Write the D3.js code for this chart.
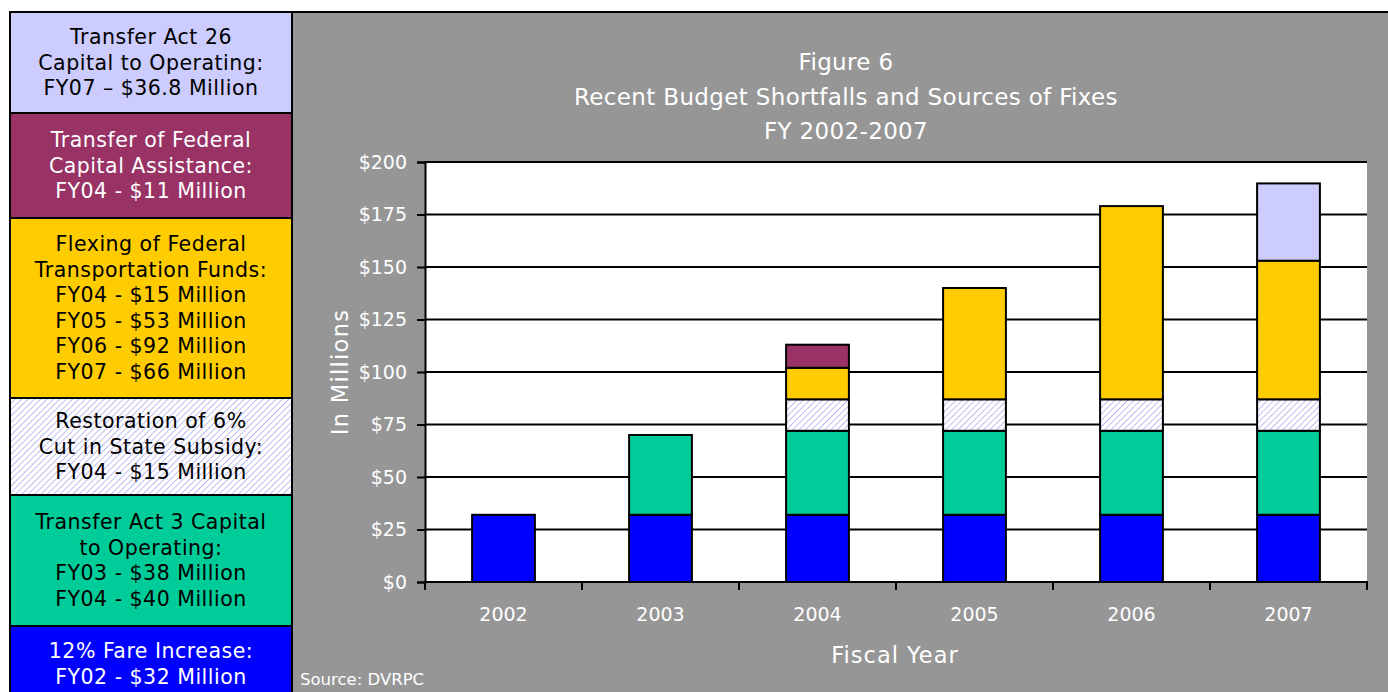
<!DOCTYPE html>
<html>
<head>
<meta charset="utf-8">
<script src="https://cdn.jsdelivr.net/npm/d3@7"></script>
<style>
  html, body { margin: 0; padding: 0; background: #ffffff; }
  svg { display: block; }
  text { font-family: "DejaVu Sans", Verdana, sans-serif; }
</style>
</head>
<body>
<svg id="chart" width="1388" height="692"></svg>
<script>
// ---- Data ----
const years = ["2002", "2003", "2004", "2005", "2006", "2007"];
const seriesKeys = ["fare", "act3", "restoration", "flexing", "federal", "act26"];
const fareIncrease   = [32, 32, 32, 32, 32, 32];
const act3Transfer   = [0, 38, 40, 40, 40, 40];
const restoration    = [0, 0, 15, 15, 15, 15];
const flexing        = [0, 0, 15, 53, 92, 66];
const federalCapital = [0, 0, 11, 0, 0, 0];
const act26Transfer  = [0, 0, 0, 0, 0, 36.8];
const yTicks = [0, 25, 50, 75, 100, 125, 150, 175, 200];
const titleLines = ["Figure 6", "Recent Budget Shortfalls and Sources of Fixes", "FY 2002-2007"];

const legendKeys = ["act26", "federal", "flexing", "restoration", "act3", "fare"];
const legendLines = [
  ["Transfer Act 26", "Capital to Operating:", "FY07 \u2013 $36.8 Million"],
  ["Transfer of Federal", "Capital Assistance:", "FY04 - $11 Million"],
  ["Flexing of Federal", "Transportation Funds:", "FY04 - $15 Million", "FY05 - $53 Million", "FY06 - $92 Million", "FY07 - $66 Million"],
  ["Restoration of 6%", "Cut in State Subsidy:", "FY04 - $15 Million"],
  ["Transfer Act 3 Capital", "to Operating:", "FY03 - $38 Million", "FY04 - $40 Million"],
  ["12% Fare Increase:", "FY02 - $32 Million"]
];

// ---- Styles ----
const fills = {
  fare: "#0000ff", act3: "#00cc99", restoration: "url(#hatch)",
  flexing: "#ffcc00", federal: "#993366", act26: "#ccccff"
};
const legendTextColor = {
  fare: "#ffffff", act3: "#000000", restoration: "#000000",
  flexing: "#000000", federal: "#ffffff", act26: "#000000"
};

const svg = d3.select("#chart");
const W = 1388, H = 692;

// hatch pattern
const defs = svg.append("defs");
const pat = defs.append("pattern")
  .attr("id", "hatch").attr("patternUnits", "userSpaceOnUse")
  .attr("width", 4.5).attr("height", 4.5)
  .attr("patternTransform", "rotate(45)");
pat.append("rect").attr("width", 4.5).attr("height", 4.5).attr("fill", "#ffffff");
pat.append("line").attr("x1", 0).attr("y1", 0).attr("x2", 0).attr("y2", 4.5)
  .attr("stroke", "#b8b8f2").attr("stroke-width", 1.8);

// gray panel
svg.append("rect").attr("x", 292).attr("y", 12).attr("width", W - 292 + 5).attr("height", H)
  .attr("fill", "#969696").attr("stroke", "#000").attr("stroke-width", 2);

// legend panel
const boxEdges = [12, 113, 218, 398, 495, 626, 700];
legendKeys.forEach((k, i) => {
  const y0 = boxEdges[i], y1 = boxEdges[i + 1];
  svg.append("rect").attr("x", 10).attr("y", y0).attr("width", 282).attr("height", y1 - y0)
    .attr("fill", fills[k]).attr("stroke", "#000").attr("stroke-width", 2);
  const lines = legendLines[i];
  const lh = 25.5;
  const startY = (y0 + y1) / 2 - (lines.length - 1) * lh / 2;
  const cy = i === 5 ? 651 : startY;
  lines.forEach((t, j) => {
    svg.append("text").attr("x", 151).attr("y", cy + j * lh)
      .attr("dy", "0.35em").attr("text-anchor", "middle")
      .attr("font-size", 20.5).attr("letter-spacing", 0.5)
      .attr("fill", legendTextColor[k]).text(t);
  });
});

// ---- Chart ----
const plot = { left: 425, right: 1367, top: 162, bottom: 582 };
const x = d3.scaleBand().domain(years).range([plot.left, plot.right])
  .paddingInner(0.6).paddingOuter(0.3);
const y = d3.scaleLinear().domain([0, 200]).range([plot.bottom, plot.top]);

svg.append("rect").attr("x", plot.left).attr("y", plot.top)
  .attr("width", plot.right - plot.left).attr("height", plot.bottom - plot.top)
  .attr("fill", "#ffffff");

// gridlines
svg.append("g").selectAll("line").data(yTicks.slice(1)).join("line")
  .attr("x1", plot.left).attr("x2", plot.right)
  .attr("y1", d => y(d)).attr("y2", d => y(d))
  .attr("stroke", "#000").attr("stroke-width", 2);

// stacked bars
const table = years.map((yr, i) => ({
  year: yr, fare: fareIncrease[i], act3: act3Transfer[i], restoration: restoration[i],
  flexing: flexing[i], federal: federalCapital[i], act26: act26Transfer[i]
}));
const stacked = d3.stack().keys(seriesKeys)(table);
const gBars = svg.append("g");
stacked.forEach(s => {
  gBars.selectAll(null).data(s.filter(d => d[1] - d[0] > 0)).join("rect")
    .attr("x", d => x(d.data.year))
    .attr("width", x.bandwidth())
    .attr("y", d => y(d[1]))
    .attr("height", d => y(d[0]) - y(d[1]))
    .attr("fill", fills[s.key])
    .attr("stroke", "#000").attr("stroke-width", 2);
});

// y axis
const yAxis = svg.append("g").attr("transform", `translate(${plot.left},0)`)
  .call(d3.axisLeft(y).tickValues(yTicks).tickSize(8).tickPadding(10).tickFormat(d => "$" + d));
yAxis.select(".domain").attr("stroke", "#000").attr("stroke-width", 2);
yAxis.selectAll(".tick line").attr("stroke", "#000").attr("stroke-width", 2);
yAxis.selectAll(".tick text").attr("fill", "#ffffff").attr("font-size", 19)
  .attr("font-family", "DejaVu Sans");

// x axis
const xAxis = svg.append("g").attr("transform", `translate(0,${plot.bottom})`)
  .call(d3.axisBottom(x).tickSize(0).tickPadding(26));
xAxis.select(".domain").remove();
xAxis.selectAll(".tick text").attr("fill", "#ffffff").attr("font-size", 19)
  .attr("font-family", "DejaVu Sans");
svg.append("line").attr("x1", plot.left - 1).attr("x2", plot.right + 1)
  .attr("y1", plot.bottom).attr("y2", plot.bottom)
  .attr("stroke", "#000").attr("stroke-width", 2);
const boundaries = years.map(d => x(d) - x.step() * x.paddingOuter()).concat([plot.right]);
svg.append("g").selectAll("line").data(boundaries).join("line")
  .attr("x1", d => d).attr("x2", d => d)
  .attr("y1", plot.bottom).attr("y2", plot.bottom + 8)
  .attr("stroke", "#000").attr("stroke-width", 2);

// titles
titleLines.forEach((t, i) => {
  svg.append("text").attr("x", 846).attr("y", 62 + i * 34.5).attr("dy", "0.35em")
    .attr("text-anchor", "middle").attr("fill", "#ffffff")
    .attr("font-size", 23).attr("letter-spacing", 0.35).text(t);
});
svg.append("text").attr("x", 895).attr("y", 655).attr("dy", "0.35em")
  .attr("text-anchor", "middle").attr("fill", "#ffffff")
  .attr("font-size", 22.5).attr("letter-spacing", 1).text("Fiscal Year");
svg.append("text").attr("transform", "translate(340,372) rotate(-90)").attr("dy", "0.35em")
  .attr("text-anchor", "middle").attr("fill", "#ffffff")
  .attr("font-size", 22.5).attr("letter-spacing", 1.3).text("In Millions");
svg.append("text").attr("x", 300).attr("y", 679).attr("dy", "0.35em")
  .attr("fill", "#ffffff").attr("font-size", 16.5).text("Source: DVRPC");
</script>
</body>
</html>
